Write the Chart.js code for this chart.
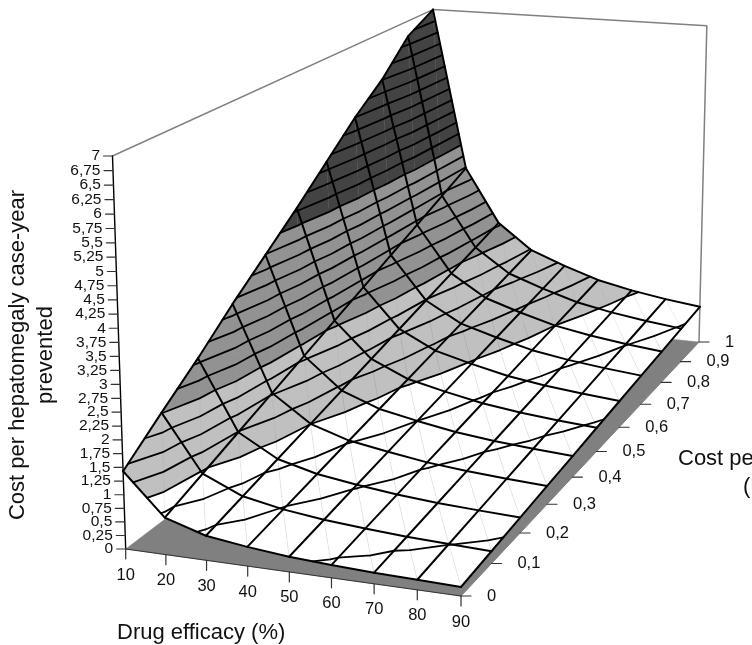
<!DOCTYPE html>
<html lang="en">
<head>
  <meta charset="UTF-8">
  <title>Cost per hepatomegaly case-year prevented</title>
  <script src="https://cdn.jsdelivr.net/npm/chart.js"></script>
  <style>
    html, body { margin: 0; padding: 0; background: #fff; }
    canvas { display: block; }
  </style>
</head>
<body>
  <canvas id="chart" width="752" height="645"></canvas>

  <script>
    // values
    const efficacy = [10, 20, 30, 40, 50, 60, 70, 80, 90];
    const costs = [0, 0.1, 0.2, 0.3, 0.4, 0.5, 0.6, 0.7, 0.8, 0.9, 1];
    const heightTicks = [0, 0.25, 0.5, 0.75, 1, 1.25, 1.5, 1.75, 2, 2.25, 2.5, 2.75, 3, 3.25, 3.5, 3.75, 4, 4.25, 4.5, 4.75, 5, 5.25, 5.5, 5.75, 6, 6.25, 6.5, 6.75, 7];
    const costAt10 = [1.43, 2.01, 2.57, 3.18, 3.74, 4.30, 4.90, 5.50, 6.01, 6.67, 7.00];
    const costAt20 = [0.68, 0.96, 1.24, 1.52, 1.80, 2.08, 2.36, 2.64, 2.92, 3.20, 3.48];
    const costAt30 = [0.45, 0.634, 0.818, 1.002, 1.186, 1.37, 1.554, 1.738, 1.922, 2.106, 2.29];
    const costAt40 = [0.35, 0.488, 0.626, 0.764, 0.902, 1.04, 1.178, 1.316, 1.454, 1.592, 1.73];
    const costAt50 = [0.275, 0.395, 0.515, 0.635, 0.75, 0.865, 0.98, 1.095, 1.21, 1.325, 1.44];
    const costAt60 = [0.23, 0.331, 0.426, 0.522, 0.617, 0.713, 0.808, 0.904, 0.999, 1.095, 1.19];
    const costAt70 = [0.20, 0.283, 0.365, 0.448, 0.53, 0.613, 0.695, 0.778, 0.86, 0.943, 1.025];
    const costAt80 = [0.18, 0.252, 0.324, 0.396, 0.468, 0.54, 0.612, 0.684, 0.756, 0.828, 0.90];
    const costAt90 = [0.16, 0.224, 0.288, 0.352, 0.416, 0.48, 0.544, 0.608, 0.672, 0.736, 0.80];
    const surface = [costAt10, costAt20, costAt30, costAt40, costAt50, costAt60, costAt70, costAt80, costAt90];

    const contourStep = 0.25;
    const bandEdges = [0, 1, 2, 4, 7.01];
    const bandColors = ['#ffffff', '#c0c0c0', '#929292', '#434343'];

    // perspective camera: homogeneous origin and the three axis directions of the box
    const camO = [131.86, 575.9, 1.049];
    const camU = [329.14, 20.1, -0.049];
    const camV = [461.68, -144.56, 0.32];
    const camT = [-18.43, -418.6, -0.0407];

    function project(e, c, z) {
      const u = (e - 10) / 80, t = z / 7;
      const h = [0, 1, 2].map(i => camO[i] + u * camU[i] + c * camV[i] + t * camT[i]);
      return { x: h[0] / h[2], y: h[1] / h[2] };
    }
    const gap = { x: NaN, y: NaN };

    // keep the part of a triangle between two heights
    function clipTriangle(tri, lo, hi) {
      let poly = tri;
      const cut = (pts, level, keepAbove) => {
        const out = [];
        pts.forEach((p, i) => {
          const q = pts[(i + 1) % pts.length];
          const pIn = keepAbove ? p[2] >= level : p[2] <= level;
          const qIn = keepAbove ? q[2] >= level : q[2] <= level;
          if (pIn) out.push(p);
          if (pIn !== qIn) {
            const k = (level - p[2]) / (q[2] - p[2]);
            out.push([p[0] + k * (q[0] - p[0]), p[1] + k * (q[1] - p[1]), level]);
          }
        });
        return out;
      };
      poly = cut(poly, lo, true);
      if (poly.length) poly = cut(poly, hi, false);
      return poly;
    }

    function contourSegment(tri, level) {
      const pts = [];
      tri.forEach((p, i) => {
        const q = tri[(i + 1) % 3];
        if ((p[2] < level) !== (q[2] < level)) {
          const k = (level - p[2]) / (q[2] - p[2]);
          pts.push([p[0] + k * (q[0] - p[0]), p[1] + k * (q[1] - p[1]), level]);
        }
      });
      return pts.length === 2 ? pts : null;
    }

    const triangles = [];
    for (let j = costs.length - 2; j >= 0; j--) {
      for (let i = 0; i < efficacy.length - 1; i++) {
        const a = [efficacy[i], costs[j], surface[i][j]];
        const b = [efficacy[i + 1], costs[j], surface[i + 1][j]];
        const c = [efficacy[i], costs[j + 1], surface[i][j + 1]];
        const d = [efficacy[i + 1], costs[j + 1], surface[i + 1][j + 1]];
        triangles.push([c, d, b], [a, c, b]);
      }
    }

    const toXY = p => project(p[0], p[1], p[2]);
    const line = (data, color, width, extra) => Object.assign({
      data, borderColor: color, borderWidth: width, showLine: true, pointRadius: 0,
      fill: false, tension: 0, borderJoinStyle: 'round', borderCapStyle: 'round'
    }, extra || {});

    const painted = [];

    // floor plate and back walls
    const floorCorners = [[10, 0], [90, 0], [90, 1], [10, 1], [10, 0]];
    painted.push(line(floorCorners.map(p => project(p[0], p[1], 0)), '#808080', 0.5, { fill: 'shape', backgroundColor: '#808080' }));
    const wallCorners = [[10, 0], [10, 1], [90, 1]];
    painted.push(line(wallCorners.map(p => project(p[0], p[1], 7)).concat([project(90, 1, 0)]), '#808080', 1.5));

    // surface, cut into the colour bands
    triangles.forEach(tri => {
      bandColors.forEach((color, b) => {
        const poly = clipTriangle(tri, bandEdges[b], bandEdges[b + 1]);
        if (poly.length < 3) return;
        const pts = poly.concat([poly[0]]).map(toXY);
        painted.push(line(pts, color, 0.4, { fill: 'shape', backgroundColor: color }));
      });
    });

    // faint triangle seams
    const seams = [];
    triangles.forEach((tri, k) => {
      if (k % 2 === 0) return;
      seams.push(toXY(tri[1]), toXY(tri[2]), gap);
    });
    painted.push(line(seams, 'rgba(90,90,90,0.15)', 0.7));

    // height contours
    for (let level = contourStep; level < 7; level += contourStep) {
      const segs = [];
      triangles.forEach(tri => {
        const s = contourSegment(tri, level);
        if (s) segs.push(toXY(s[0]), toXY(s[1]), gap);
      });
      painted.push(line(segs, '#000000', 1.8));
    }

    // mesh lines
    costs.forEach((c, j) => {
      painted.push(line(efficacy.map((e, i) => project(e, c, surface[i][j])), '#000000', 2));
    });
    efficacy.forEach((e, i) => {
      painted.push(line(costs.map((c, j) => project(e, c, surface[i][j])), '#000000', 2));
    });

    // axes and ticks
    const axisColor = '#333333';
    painted.push(line([project(10, 0, 0), project(10, 0, 7)], '#000000', 1.4));
    painted.push(line([project(10, 0, 0), project(90, 0, 0)], axisColor, 1.2));
    painted.push(line([project(90, 0, 0), project(90, 1, 0)], '#808080', 1));
    const tickOffset = (p, dx, dy) => ({ x: p.x + dx, y: p.y + dy });
    heightTicks.forEach(z => {
      const p = project(10, 0, z);
      painted.push(line([p, tickOffset(p, -9, 0)], axisColor, 1.2));
    });
    efficacy.forEach(e => {
      const p = project(e, 0, 0);
      painted.push(line([p, tickOffset(p, 0, 10)], axisColor, 1.2));
    });
    costs.forEach(c => {
      const p = project(90, c, 0);
      painted.push(line([p, tickOffset(p, 10, 0)], axisColor, 1.2));
    });

    // tick labels and titles
    const labelsPlugin = {
      id: 'labels',
      afterDatasetsDraw(chart) {
        const { ctx, scales } = chart;
        const px = p => ({ x: scales.x.getPixelForValue(p.x), y: scales.y.getPixelForValue(p.y) });
        ctx.save();
        ctx.fillStyle = '#111111';
        ctx.font = '15.5px "Liberation Sans"';
        ctx.textBaseline = 'middle';
        ctx.textAlign = 'right';
        heightTicks.forEach(z => {
          const p = px(project(10, 0, z));
          ctx.fillText(String(z).replace('.', ','), p.x - 12.5, p.y);
        });
        ctx.font = '16.5px "Liberation Sans"';
        ctx.textAlign = 'center';
        efficacy.forEach(e => {
          const p = px(project(e, 0, 0));
          ctx.fillText(String(e), p.x, p.y + 26);
        });
        ctx.textAlign = 'left';
        costs.forEach(c => {
          const p = px(project(90, c, 0));
          ctx.fillText(String(c).replace('.', ','), p.x + 26, p.y);
        });
        ctx.font = '22px "Liberation Sans"';
        ctx.textBaseline = 'alphabetic';
        ctx.fillText('Drug efficacy (%)', 117, 639);
        ctx.fillText('Cost per tablet', 678, 465);
        ctx.fillText('(US$)', 743, 493);
        ctx.translate(24, 355);
        ctx.rotate(-Math.PI / 2);
        ctx.textAlign = 'center';
        ctx.fillText('Cost per hepatomegaly case-year', 0, 0);
        ctx.fillText('prevented', 0, 28);
        ctx.restore();
      }
    };

    new Chart(document.getElementById('chart'), {
      type: 'scatter',
      data: { datasets: painted.slice().reverse() },
      plugins: [labelsPlugin],
      options: {
        responsive: false,
        animation: false,
        parsing: { xAxisKey: 'x', yAxisKey: 'y' },
        layout: { padding: 0 },
        plugins: { legend: { display: false }, tooltip: { enabled: false } },
        scales: {
          x: { type: 'linear', min: 0, max: 752, display: false },
          y: { type: 'linear', min: 0, max: 645, reverse: true, display: false }
        }
      }
    });
  </script>
</body>
</html>
